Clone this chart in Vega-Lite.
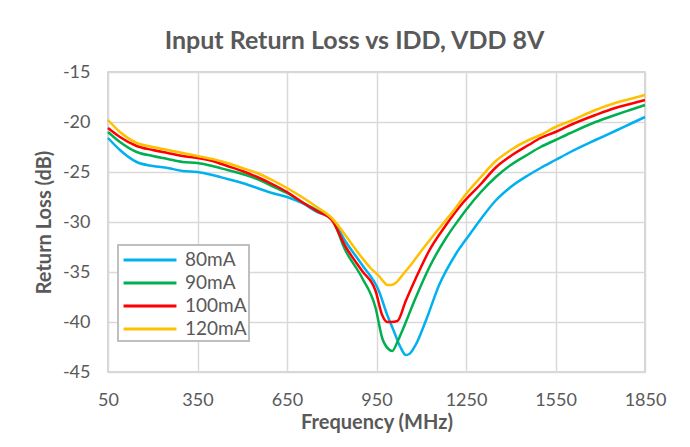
{
  "$schema": "https://vega.github.io/schema/vega-lite/v6.json",
  "autosize": "none",
  "width": 537,
  "height": 300,
  "padding": {"left": 108, "top": 72, "right": 45, "bottom": 75},
  "background": "white",
  "title": {"text": "Input Return Loss vs IDD, VDD 8V", "fontSize": 25, "fontWeight": "bold", "color": "#595959", "font": "Lato", "anchor": "middle", "dx": -22, "offset": 9},
  "config": {
    "view": {"stroke": "#c8c8c8", "strokeWidth": 1.5},
    "font": "Lato",
    "legend": {"strokeWidth": 2}
  },
  "data": {"values": [
    {"f": 50, "rl": -21.6, "s": "80mA"}, {"f": 90, "rl": -22.8, "s": "80mA"}, {"f": 146, "rl": -24.0, "s": "80mA"}, {"f": 200, "rl": -24.4, "s": "80mA"}, {"f": 250, "rl": -24.6, "s": "80mA"}, {"f": 300, "rl": -24.9, "s": "80mA"}, {"f": 350, "rl": -25.0, "s": "80mA"}, {"f": 400, "rl": -25.3, "s": "80mA"}, {"f": 450, "rl": -25.7, "s": "80mA"}, {"f": 500, "rl": -26.1, "s": "80mA"}, {"f": 550, "rl": -26.6, "s": "80mA"}, {"f": 600, "rl": -27.1, "s": "80mA"}, {"f": 650, "rl": -27.5, "s": "80mA"}, {"f": 700, "rl": -28.1, "s": "80mA"}, {"f": 750, "rl": -29.0, "s": "80mA"}, {"f": 800, "rl": -29.7, "s": "80mA"}, {"f": 845, "rl": -31.9, "s": "80mA"}, {"f": 902, "rl": -34.3, "s": "80mA"}, {"f": 958, "rl": -36.9, "s": "80mA"}, {"f": 986, "rl": -39.3, "s": "80mA"}, {"f": 1008, "rl": -40.9, "s": "80mA"}, {"f": 1030, "rl": -42.5, "s": "80mA"}, {"f": 1048, "rl": -43.3, "s": "80mA"}, {"f": 1060, "rl": -43.2, "s": "80mA"}, {"f": 1081, "rl": -42.3, "s": "80mA"}, {"f": 1115, "rl": -39.9, "s": "80mA"}, {"f": 1160, "rl": -36.3, "s": "80mA"}, {"f": 1216, "rl": -33.2, "s": "80mA"}, {"f": 1261, "rl": -31.3, "s": "80mA"}, {"f": 1300, "rl": -29.7, "s": "80mA"}, {"f": 1348, "rl": -27.9, "s": "80mA"}, {"f": 1400, "rl": -26.5, "s": "80mA"}, {"f": 1460, "rl": -25.3, "s": "80mA"}, {"f": 1500, "rl": -24.6, "s": "80mA"}, {"f": 1550, "rl": -23.8, "s": "80mA"}, {"f": 1600, "rl": -23.0, "s": "80mA"}, {"f": 1684, "rl": -21.8, "s": "80mA"}, {"f": 1750, "rl": -20.9, "s": "80mA"}, {"f": 1800, "rl": -20.2, "s": "80mA"}, {"f": 1850, "rl": -19.5, "s": "80mA"},

    {"f": 50, "rl": -21.0, "s": "90mA"}, {"f": 90, "rl": -22.0, "s": "90mA"}, {"f": 146, "rl": -23.0, "s": "90mA"}, {"f": 200, "rl": -23.4, "s": "90mA"}, {"f": 250, "rl": -23.7, "s": "90mA"}, {"f": 300, "rl": -24.0, "s": "90mA"}, {"f": 350, "rl": -24.1, "s": "90mA"}, {"f": 400, "rl": -24.4, "s": "90mA"}, {"f": 450, "rl": -24.8, "s": "90mA"}, {"f": 500, "rl": -25.2, "s": "90mA"}, {"f": 550, "rl": -25.7, "s": "90mA"}, {"f": 600, "rl": -26.4, "s": "90mA"}, {"f": 650, "rl": -27.1, "s": "90mA"}, {"f": 700, "rl": -28.0, "s": "90mA"}, {"f": 750, "rl": -28.8, "s": "90mA"}, {"f": 800, "rl": -29.7, "s": "90mA"}, {"f": 845, "rl": -32.8, "s": "90mA"}, {"f": 902, "rl": -35.6, "s": "90mA"}, {"f": 947, "rl": -38.6, "s": "90mA"}, {"f": 969, "rl": -41.6, "s": "90mA"}, {"f": 990, "rl": -42.7, "s": "90mA"}, {"f": 1003, "rl": -42.9, "s": "90mA"}, {"f": 1020, "rl": -42.0, "s": "90mA"}, {"f": 1036, "rl": -40.9, "s": "90mA"}, {"f": 1081, "rl": -37.6, "s": "90mA"}, {"f": 1126, "rl": -34.6, "s": "90mA"}, {"f": 1183, "rl": -31.6, "s": "90mA"}, {"f": 1225, "rl": -29.8, "s": "90mA"}, {"f": 1250, "rl": -28.8, "s": "90mA"}, {"f": 1300, "rl": -27.0, "s": "90mA"}, {"f": 1350, "rl": -25.5, "s": "90mA"}, {"f": 1400, "rl": -24.3, "s": "90mA"}, {"f": 1460, "rl": -23.2, "s": "90mA"}, {"f": 1500, "rl": -22.5, "s": "90mA"}, {"f": 1550, "rl": -21.8, "s": "90mA"}, {"f": 1600, "rl": -21.1, "s": "90mA"}, {"f": 1684, "rl": -20.0, "s": "90mA"}, {"f": 1750, "rl": -19.3, "s": "90mA"}, {"f": 1800, "rl": -18.8, "s": "90mA"}, {"f": 1850, "rl": -18.3, "s": "90mA"},

    {"f": 50, "rl": -20.6, "s": "100mA"}, {"f": 90, "rl": -21.5, "s": "100mA"}, {"f": 146, "rl": -22.4, "s": "100mA"}, {"f": 200, "rl": -22.8, "s": "100mA"}, {"f": 250, "rl": -23.1, "s": "100mA"}, {"f": 300, "rl": -23.4, "s": "100mA"}, {"f": 350, "rl": -23.6, "s": "100mA"}, {"f": 400, "rl": -23.9, "s": "100mA"}, {"f": 450, "rl": -24.4, "s": "100mA"}, {"f": 500, "rl": -24.9, "s": "100mA"}, {"f": 550, "rl": -25.5, "s": "100mA"}, {"f": 600, "rl": -26.2, "s": "100mA"}, {"f": 650, "rl": -27.0, "s": "100mA"}, {"f": 700, "rl": -28.0, "s": "100mA"}, {"f": 750, "rl": -28.9, "s": "100mA"}, {"f": 800, "rl": -29.8, "s": "100mA"}, {"f": 845, "rl": -32.4, "s": "100mA"}, {"f": 902, "rl": -34.9, "s": "100mA"}, {"f": 947, "rl": -36.9, "s": "100mA"}, {"f": 969, "rl": -39.3, "s": "100mA"}, {"f": 986, "rl": -40.0, "s": "100mA"}, {"f": 1000, "rl": -40.0, "s": "100mA"}, {"f": 1020, "rl": -39.9, "s": "100mA"}, {"f": 1048, "rl": -37.9, "s": "100mA"}, {"f": 1093, "rl": -34.9, "s": "100mA"}, {"f": 1126, "rl": -32.9, "s": "100mA"}, {"f": 1183, "rl": -30.3, "s": "100mA"}, {"f": 1239, "rl": -28.1, "s": "100mA"}, {"f": 1300, "rl": -26.2, "s": "100mA"}, {"f": 1348, "rl": -24.6, "s": "100mA"}, {"f": 1400, "rl": -23.4, "s": "100mA"}, {"f": 1460, "rl": -22.3, "s": "100mA"}, {"f": 1500, "rl": -21.6, "s": "100mA"}, {"f": 1550, "rl": -21.0, "s": "100mA"}, {"f": 1600, "rl": -20.3, "s": "100mA"}, {"f": 1684, "rl": -19.3, "s": "100mA"}, {"f": 1750, "rl": -18.6, "s": "100mA"}, {"f": 1800, "rl": -18.2, "s": "100mA"}, {"f": 1850, "rl": -17.8, "s": "100mA"},

    {"f": 50, "rl": -19.8, "s": "120mA"}, {"f": 90, "rl": -21.0, "s": "120mA"}, {"f": 146, "rl": -22.1, "s": "120mA"}, {"f": 200, "rl": -22.5, "s": "120mA"}, {"f": 250, "rl": -22.8, "s": "120mA"}, {"f": 300, "rl": -23.1, "s": "120mA"}, {"f": 350, "rl": -23.4, "s": "120mA"}, {"f": 400, "rl": -23.7, "s": "120mA"}, {"f": 450, "rl": -24.1, "s": "120mA"}, {"f": 500, "rl": -24.6, "s": "120mA"}, {"f": 550, "rl": -25.1, "s": "120mA"}, {"f": 600, "rl": -25.8, "s": "120mA"}, {"f": 650, "rl": -26.6, "s": "120mA"}, {"f": 700, "rl": -27.5, "s": "120mA"}, {"f": 750, "rl": -28.5, "s": "120mA"}, {"f": 800, "rl": -29.6, "s": "120mA"}, {"f": 845, "rl": -31.3, "s": "120mA"}, {"f": 902, "rl": -33.6, "s": "120mA"}, {"f": 930, "rl": -34.6, "s": "120mA"}, {"f": 958, "rl": -35.4, "s": "120mA"}, {"f": 975, "rl": -36.0, "s": "120mA"}, {"f": 986, "rl": -36.3, "s": "120mA"}, {"f": 1000, "rl": -36.3, "s": "120mA"}, {"f": 1014, "rl": -36.1, "s": "120mA"}, {"f": 1040, "rl": -35.2, "s": "120mA"}, {"f": 1070, "rl": -34.1, "s": "120mA"}, {"f": 1100, "rl": -32.9, "s": "120mA"}, {"f": 1126, "rl": -31.9, "s": "120mA"}, {"f": 1150, "rl": -31.0, "s": "120mA"}, {"f": 1183, "rl": -29.8, "s": "120mA"}, {"f": 1210, "rl": -28.8, "s": "120mA"}, {"f": 1250, "rl": -27.2, "s": "120mA"}, {"f": 1300, "rl": -25.5, "s": "120mA"}, {"f": 1350, "rl": -23.9, "s": "120mA"}, {"f": 1400, "rl": -22.8, "s": "120mA"}, {"f": 1460, "rl": -21.8, "s": "120mA"}, {"f": 1500, "rl": -21.3, "s": "120mA"}, {"f": 1550, "rl": -20.5, "s": "120mA"}, {"f": 1600, "rl": -19.9, "s": "120mA"}, {"f": 1684, "rl": -18.8, "s": "120mA"}, {"f": 1750, "rl": -18.1, "s": "120mA"}, {"f": 1800, "rl": -17.7, "s": "120mA"}, {"f": 1850, "rl": -17.3, "s": "120mA"}
  ]},
  "mark": {"type": "line", "strokeWidth": 2.5, "interpolate": "monotone"},
  "encoding": {
    "x": {"field": "f", "type": "quantitative", "scale": {"domain": [50, 1850], "nice": false, "zero": false},
      "axis": {"title": "Frequency (MHz)", "values": [50, 350, 650, 950, 1250, 1550, 1850], "labelExpr": "'' + datum.value", "grid": true, "gridColor": "#d9d9d9", "gridWidth": 1.5, "domain": false, "ticks": false, "labelFontSize": 18, "labelColor": "#595959", "labelPadding": 19, "titleFontSize": 20, "titleFontWeight": "bold", "titleColor": "#595959", "titlePadding": 3, "labelFont": "Lato", "titleFont": "Lato", "labelFlush": false}},
    "y": {"field": "rl", "type": "quantitative", "scale": {"domain": [-45, -15], "nice": false, "zero": false},
      "axis": {"title": "Return Loss (dB)", "values": [-45, -40, -35, -30, -25, -20, -15], "labelExpr": "'' + datum.value", "grid": true, "gridColor": "#d9d9d9", "gridWidth": 1.5, "domain": false, "ticks": false, "labelFontSize": 18, "labelColor": "#595959", "labelPadding": 18, "titleFontSize": 20, "titleFontWeight": "bold", "titleColor": "#595959", "titlePadding": 8, "labelFont": "Lato", "titleFont": "Lato"}},
    "color": {"field": "s", "type": "nominal", "sort": ["80mA", "90mA", "100mA", "120mA"],
      "scale": {"domain": ["80mA", "90mA", "100mA", "120mA"], "range": ["#00B0F0", "#00B050", "#FF0000", "#FFC000"]},
      "legend": {"title": null, "orient": "none", "legendX": 10, "legendY": 173, "symbolType": "M-2.3,0L2.3,0", "symbolStrokeWidth": 3, "symbolSize": 529, "symbolOffset": 17, "labelFontSize": 19, "labelColor": "#595959", "labelFont": "Lato", "strokeColor": "#bfbfbf", "fillColor": "white", "padding": 2, "rowPadding": 0, "labelOffset": 22}},
    "order": {"field": "f", "type": "quantitative"}
  }
}
